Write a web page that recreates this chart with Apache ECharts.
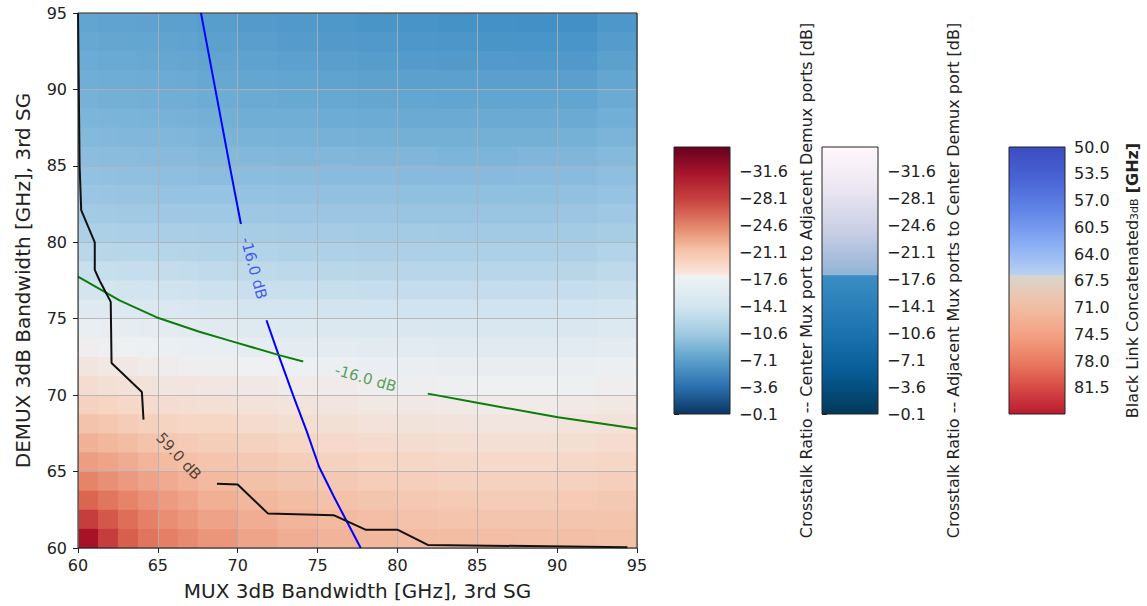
<!DOCTYPE html>
<html>
<head>
<meta charset="utf-8">
<script src="https://cdn.jsdelivr.net/npm/echarts@6/dist/echarts.min.js"></script>
<style>
  html, body { margin: 0; padding: 0; background: #ffffff; }
  #chart { width: 1147px; height: 606px; }
</style>
</head>
<body>
<div id="chart"></div>
<script>
// MUX bandwidth bin edges [GHz] (x) and DEMUX bin edges [GHz] (y, listed top to bottom)
var muxEdges = [60, 61.25, 62.5, 63.75, 65, 66.25, 67.5, 70, 72.5, 75, 77.5, 80, 82.5, 85, 87.5, 90, 92.5, 95];
var demuxEdges = [95, 93.75, 92.5, 91.25, 90, 88.75, 87.5, 86.25, 85, 83.75, 82.5, 81.25, 80,
                  78.75, 77.5, 76.25, 75, 73.75, 72.5, 71.25, 70, 68.75, 67.5, 66.25, 65,
                  63.75, 62.5, 61.25, 60];

// Crosstalk ratio [dB] per cell, one row per DEMUX bin (top row first)
var crosstalkDb = [
  [-4.1, -3.9, -3.9, -3.8, -3.6, -3.5, -3.2, -2.9, -2.6, -2.3, -2.0, -1.8, -1.5, -1.3, -1.2, -1.2, -2.4],
  [-4.5, -4.3, -4.3, -4.2, -4.0, -3.9, -3.6, -3.3, -3.0, -2.8, -2.6, -2.4, -2.2, -2.0, -1.9, -1.9, -3.0],
  [-4.9, -4.7, -4.7, -4.6, -4.4, -4.3, -4.0, -3.8, -3.5, -3.3, -3.1, -2.9, -2.8, -2.7, -2.6, -2.6, -3.6],
  [-5.3, -5.1, -5.1, -5.0, -4.9, -4.8, -4.5, -4.3, -4.1, -3.9, -3.7, -3.6, -3.5, -3.4, -3.4, -3.4, -4.2],
  [-5.7, -5.5, -5.5, -5.4, -5.3, -5.2, -5.0, -4.8, -4.6, -4.5, -4.3, -4.2, -4.1, -4.1, -4.1, -4.1, -4.8],
  [-6.2, -6.0, -6.0, -5.9, -5.8, -5.7, -5.5, -5.3, -5.2, -5.0, -4.9, -4.8, -4.8, -4.8, -4.8, -4.8, -5.4],
  [-6.7, -6.6, -6.5, -6.5, -6.4, -6.3, -6.1, -5.9, -5.8, -5.7, -5.6, -5.5, -5.5, -5.5, -5.5, -5.6, -6.1],
  [-7.3, -7.1, -7.1, -7.0, -6.9, -6.9, -6.7, -6.6, -6.5, -6.4, -6.3, -6.3, -6.2, -6.2, -6.3, -6.3, -6.8],
  [-7.8, -7.7, -7.6, -7.6, -7.5, -7.5, -7.3, -7.2, -7.1, -7.0, -7.0, -6.9, -6.9, -6.9, -7.0, -7.0, -7.4],
  [-8.4, -8.3, -8.2, -8.2, -8.1, -8.1, -8.0, -7.9, -7.8, -7.7, -7.7, -7.6, -7.6, -7.6, -7.6, -7.7, -8.0],
  [-9.1, -9.0, -8.9, -8.9, -8.8, -8.8, -8.7, -8.6, -8.5, -8.4, -8.4, -8.3, -8.3, -8.3, -8.3, -8.4, -8.7],
  [-9.9, -9.8, -9.7, -9.7, -9.6, -9.6, -9.5, -9.4, -9.3, -9.2, -9.1, -9.1, -9.0, -9.0, -9.0, -9.1, -9.4],
  [-10.8, -10.7, -10.6, -10.6, -10.5, -10.4, -10.3, -10.2, -10.1, -10.0, -9.9, -9.9, -9.8, -9.8, -9.8, -9.9, -10.2],
  [-11.8, -11.7, -11.6, -11.6, -11.5, -11.4, -11.2, -11.0, -10.9, -10.8, -10.7, -10.6, -10.6, -10.6, -10.6, -10.7, -11.0],
  [-12.8, -12.7, -12.6, -12.5, -12.4, -12.3, -12.1, -11.9, -11.8, -11.7, -11.6, -11.5, -11.5, -11.5, -11.5, -11.6, -11.9],
  [-13.7, -13.6, -13.5, -13.4, -13.3, -13.2, -13.0, -12.8, -12.7, -12.6, -12.5, -12.4, -12.4, -12.4, -12.4, -12.5, -12.8],
  [-14.5, -14.4, -14.3, -14.2, -14.1, -14.0, -13.8, -13.6, -13.5, -13.4, -13.3, -13.2, -13.1, -13.1, -13.1, -13.2, -13.5],
  [-15.3, -15.1, -15.0, -14.9, -14.7, -14.6, -14.5, -14.3, -14.2, -14.1, -14.0, -13.9, -13.8, -13.8, -13.8, -13.9, -14.1],
  [-16.1, -15.9, -15.8, -15.6, -15.4, -15.3, -15.2, -15.0, -14.9, -14.8, -14.6, -14.5, -14.4, -14.4, -14.4, -14.5, -14.7],
  [-17.0, -16.8, -16.6, -16.4, -16.2, -16.1, -16.0, -15.8, -15.6, -15.5, -15.3, -15.2, -15.1, -15.0, -15.0, -15.1, -15.3],
  [-18.1, -17.8, -17.5, -17.2, -17.0, -16.9, -16.8, -16.5, -16.3, -16.1, -15.9, -15.8, -15.7, -15.6, -15.6, -15.7, -15.9],
  [-19.4, -19.0, -18.6, -18.2, -17.9, -17.7, -17.6, -17.2, -16.9, -16.7, -16.5, -16.4, -16.3, -16.2, -16.2, -16.3, -16.5],
  [-21.0, -20.4, -19.9, -19.4, -19.0, -18.7, -18.4, -18.0, -17.6, -17.4, -17.2, -17.0, -16.9, -16.8, -16.8, -16.9, -17.1],
  [-22.8, -22.1, -21.4, -20.7, -20.1, -19.6, -19.3, -18.8, -18.4, -18.1, -17.8, -17.6, -17.5, -17.4, -17.4, -17.5, -17.7],
  [-25.0, -24.0, -23.1, -22.3, -21.6, -20.9, -20.2, -19.6, -19.2, -18.8, -18.5, -18.3, -18.1, -18.0, -18.0, -18.1, -18.3],
  [-27.5, -26.2, -25.0, -23.9, -23.0, -22.2, -21.2, -20.4, -19.9, -19.5, -19.2, -18.9, -18.7, -18.6, -18.6, -18.7, -18.8],
  [-30.5, -28.5, -26.8, -25.3, -24.2, -23.3, -22.3, -21.3, -20.6, -20.2, -19.8, -19.5, -19.3, -19.2, -19.2, -19.2, -19.3],
  [-34.0, -30.5, -28.0, -26.3, -25.3, -24.5, -23.4, -22.1, -21.3, -20.8, -20.4, -20.1, -19.9, -19.8, -19.7, -19.7, -19.6]
];

// Contour lines, split where the inline labels sit
var adjMuxContour = [
  [[67.7, 95], [68.6, 90], [69.5, 85], [70.2, 81.2]],
  [[71.8, 74.9], [72.6, 72.5], [73.5, 69.9], [74.3, 67.7], [75.1, 65.3], [76.0, 63.4], [76.8, 61.8], [77.7, 60]]
];
var centerMuxContour = [
  [[60, 77.75], [62.6, 76.2], [64.9, 75.1], [67.6, 74.15], [69.7, 73.5], [72.65, 72.6], [74.1, 72.2]],
  [[81.9, 70.1], [85.0, 69.5], [90.05, 68.55], [95, 67.8]]
];
var blackLinkContour = [
  [[60, 95], [60.05, 90], [60.1, 85], [60.2, 82.1], [61.05, 80], [61.05, 78.2], [61.35, 77.5],
   [62.05, 76.1], [62.1, 72.1], [64.0, 70.2], [64.1, 68.4]],
  [[68.7, 64.2], [70.0, 64.15], [71.9, 62.25], [76.0, 62.15], [78.0, 61.2], [80.0, 61.2],
   [81.9, 60.2], [94.4, 60.05]]
];

// Inline contour labels (text and anchor in data coordinates)
var adjMuxLabel = [{ name: '-16.0 dB', value: [71.0, 78.3] }];
var centerMuxLabel = [{ name: '-16.0 dB', value: [78.0, 71.1] }];
var blackLinkLabel = [{ name: '59.0 dB', value: [66.3, 66.0] }];

// Axis ticks
var bandwidthTicks = [60, 65, 70, 75, 80, 85, 90, 95];
var crosstalkTicks = [-31.6, -28.1, -24.6, -21.1, -17.6, -14.1, -10.6, -7.1, -3.6, -0.1];
var crosstalkRange = [-34.84, -0.1];
var linkTicks = [50.0, 53.5, 57.0, 60.5, 64.0, 67.5, 71.0, 74.5, 78.0, 81.5];
var linkRange = [50, 84.9];

var FONT = 'DejaVu Sans';
var TICK_FONT = 16;
var TEXT = '#222';

var cells = [];
crosstalkDb.forEach(function (row, r) {
  row.forEach(function (v, c) {
    cells.push([muxEdges[c], muxEdges[c + 1], demuxEdges[r + 1], demuxEdges[r], v]);
  });
});

function minusFmt(v) {
  return (Math.round(v * 10) / 10).toFixed(1).replace('-', '\u2212');
}

function barRender(stops) {
  return function (params) {
    var cs = params.coordSys;
    return {
      type: 'rect',
      shape: { x: cs.x, y: cs.y, width: cs.width, height: cs.height },
      style: { fill: new echarts.graphic.LinearGradient(0, 0, 0, 1, stops) }
    };
  };
}

var rdbuStops = [
  { offset: 0, color: '#67001f' }, { offset: 0.1, color: '#a8162c' },
  { offset: 0.2, color: '#c9433f' }, { offset: 0.3, color: '#e3886c' },
  { offset: 0.38, color: '#f5bfa4' }, { offset: 0.478, color: '#fae8df' },
  { offset: 0.482, color: '#eff2f4' }, { offset: 0.6, color: '#d1e5f0' },
  { offset: 0.7, color: '#a0cae2' }, { offset: 0.8, color: '#5a9fcb' },
  { offset: 0.9, color: '#2a6fae' }, { offset: 1, color: '#0b3563' }
];
var pubuStops = [
  { offset: 0, color: '#fff7fb' }, { offset: 0.15, color: '#ece7f2' },
  { offset: 0.3, color: '#cdd1e6' }, { offset: 0.42, color: '#a6bddb' },
  { offset: 0.478, color: '#93b5d8' }, { offset: 0.482, color: '#3a8ec2' },
  { offset: 0.6, color: '#2a7fb9' }, { offset: 0.72, color: '#1870ac' },
  { offset: 0.85, color: '#075b94' }, { offset: 1, color: '#023858' }
];
var coolwarmStops = [
  { offset: 0, color: '#3b4cc0' }, { offset: 0.12, color: '#4a64d6' },
  { offset: 0.25, color: '#6389e8' }, { offset: 0.38, color: '#90b3f5' },
  { offset: 0.478, color: '#b9d0f1' }, { offset: 0.482, color: '#d9d4cc' },
  { offset: 0.58, color: '#eec2a9' }, { offset: 0.7, color: '#f4a284' },
  { offset: 0.8, color: '#ea7d63' }, { offset: 0.9, color: '#d84b45' },
  { offset: 1, color: '#b91a30' }
];

function cbGrid(left) {
  return { left: left, top: 147, width: 56, height: 267, show: true, z: 8,
           backgroundColor: 'transparent', borderColor: TEXT, borderWidth: 1 };
}
function cbXAxis(gi) {
  return { gridIndex: gi, type: 'value', min: 0, max: 1, show: false };
}
function cbYAxis(gi, range, ticks, fmt, name, gap, nameStyle) {
  return {
    gridIndex: gi, type: 'value', position: 'right', inverse: true,
    min: range[0], max: range[1],
    axisLine: { show: false },
    splitLine: { show: false },
    axisTick: { show: true, inside: false, length: 5, customValues: ticks, lineStyle: { color: TEXT } },
    axisLabel: { customValues: ticks, formatter: fmt, margin: 9, fontSize: TICK_FONT, color: TEXT, fontFamily: FONT },
    name: name, nameLocation: 'middle', nameRotate: 90, nameGap: gap,
    nameTextStyle: nameStyle
  };
}

function contourSeries(segs, color) {
  return segs.map(function (seg) {
    return {
      type: 'line', xAxisIndex: 0, yAxisIndex: 0, data: seg, showSymbol: false, symbol: 'none',
      clip: false, z: 6, silent: true, animation: false,
      lineStyle: { color: color, width: 2 }
    };
  });
}
function labelSeries(data, color, rot) {
  return {
    type: 'scatter', xAxisIndex: 0, yAxisIndex: 0, data: data, symbolSize: 1,
    itemStyle: { color: 'transparent' }, z: 7, silent: true,
    label: {
      show: true, position: 'inside', formatter: '{b}', rotate: rot,
      color: color, fontSize: 15, fontFamily: FONT, align: 'center', verticalAlign: 'middle'
    }
  };
}

var chart = echarts.init(document.getElementById('chart'), null, { renderer: 'svg' });

var series = [{
  type: 'custom', xAxisIndex: 0, yAxisIndex: 0, data: cells, z: 1, clip: true, silent: true,
  encode: { x: [0, 1], y: [2, 3] },
  renderItem: function (params, api) {
    var a = api.coord([api.value(0), api.value(3)]);
    var b = api.coord([api.value(1), api.value(2)]);
    return {
      type: 'rect',
      shape: { x: a[0], y: a[1], width: b[0] - a[0] + 1, height: b[1] - a[1] + 1 },
      style: { fill: api.visual('color') }
    };
  }
}];
series = series
  .concat(contourSeries(adjMuxContour, '#0000ff'))
  .concat(contourSeries(centerMuxContour, '#0a7d0a'))
  .concat(contourSeries(blackLinkContour, '#111111'));
series.push(labelSeries(adjMuxLabel, '#2438f2', -75));
series.push(labelSeries(centerMuxLabel, '#2a8a36', -16));
series.push(labelSeries(blackLinkLabel, '#2b1d16', -47));
series.push({ type: 'custom', xAxisIndex: 1, yAxisIndex: 1, data: [[0, crosstalkRange[0], crosstalkRange[1]]],
  encode: { x: 0, y: [1, 2] }, renderItem: barRender(rdbuStops), silent: true, z: 1 });
series.push({ type: 'custom', xAxisIndex: 2, yAxisIndex: 2, data: [[0, crosstalkRange[0], crosstalkRange[1]]],
  encode: { x: 0, y: [1, 2] }, renderItem: barRender(pubuStops), silent: true, z: 1 });
series.push({ type: 'custom', xAxisIndex: 3, yAxisIndex: 3, data: [[0, linkRange[0], linkRange[1]]],
  encode: { x: 0, y: [1, 2] }, renderItem: barRender(coolwarmStops), silent: true, z: 1 });

var gridLine = { show: true, lineStyle: { color: 'rgba(176,176,176,0.85)', width: 1 } };
var titleStyle = { fontSize: 16, color: TEXT, fontFamily: FONT };

chart.setOption({
  animation: false,
  textStyle: { fontFamily: FONT },
  grid: [
    { left: 78, top: 13, width: 559, height: 535, show: true, z: 8,
      backgroundColor: 'transparent', borderColor: '#1a1a1a', borderWidth: 1 },
    cbGrid(674), cbGrid(822), cbGrid(1009)
  ],
  visualMap: {
    type: 'continuous', show: false, seriesIndex: 0, dimension: 4, min: -35, max: 0,
    inRange: { color: ['#9e0a24', '#b41f2f', '#c94440', '#db6650', '#e6846a', '#eea085',
                       '#f3bca2', '#f6d8c8', '#eef0f2', '#d2e4ef', '#afd1e7', '#8fbfe0',
                       '#6dacd4', '#4f98ca', '#3789c2'] }
  },
  xAxis: [
    {
      gridIndex: 0, type: 'value', min: bandwidthTicks[0], max: bandwidthTicks[bandwidthTicks.length - 1],
      interval: 5, z: 4,
      axisLine: { show: false },
      axisTick: { show: true, inside: false, length: 5, lineStyle: { color: TEXT } },
      axisLabel: { fontSize: TICK_FONT, color: TEXT, margin: 9, fontFamily: FONT },
      splitLine: gridLine,
      name: 'MUX 3dB Bandwidth [GHz], 3rd SG', nameLocation: 'middle', nameGap: 33,
      nameTextStyle: { fontSize: 20, color: TEXT, fontFamily: FONT }
    },
    cbXAxis(1), cbXAxis(2), cbXAxis(3)
  ],
  yAxis: [
    {
      gridIndex: 0, type: 'value', min: bandwidthTicks[0], max: bandwidthTicks[bandwidthTicks.length - 1],
      interval: 5, z: 4,
      axisLine: { show: false },
      axisTick: { show: true, inside: false, length: 5, lineStyle: { color: TEXT } },
      axisLabel: { fontSize: TICK_FONT, color: TEXT, margin: 11, fontFamily: FONT },
      splitLine: gridLine,
      name: 'DEMUX 3dB Bandwidth [GHz], 3rd SG', nameLocation: 'middle', nameGap: 45,
      nameTextStyle: { fontSize: 20, color: TEXT, fontFamily: FONT }
    },
    cbYAxis(1, crosstalkRange, crosstalkTicks, minusFmt,
      'Crosstalk Ratio -- Center Mux port to Adjacent Demux ports [dB]', 68, titleStyle),
    cbYAxis(2, crosstalkRange, crosstalkTicks, minusFmt,
      'Crosstalk Ratio -- Adjacent Mux ports to Center Demux port [dB]', 67, titleStyle),
    cbYAxis(3, linkRange, linkTicks, function (v) { return v.toFixed(1); },
      '{t|Black Link Concatenated}{s|3dB} {b|[GHz]}', 59,
      { fontSize: 16, color: TEXT, fontFamily: FONT,
        rich: {
          t: { fontSize: 16, color: TEXT, fontFamily: FONT },
          s: { fontSize: 11, color: TEXT, fontFamily: FONT, verticalAlign: 'bottom' },
          b: { fontSize: 16, color: TEXT, fontFamily: FONT, fontWeight: 'bold' }
        } })
  ],
  series: series
});
</script>
</body>
</html>
